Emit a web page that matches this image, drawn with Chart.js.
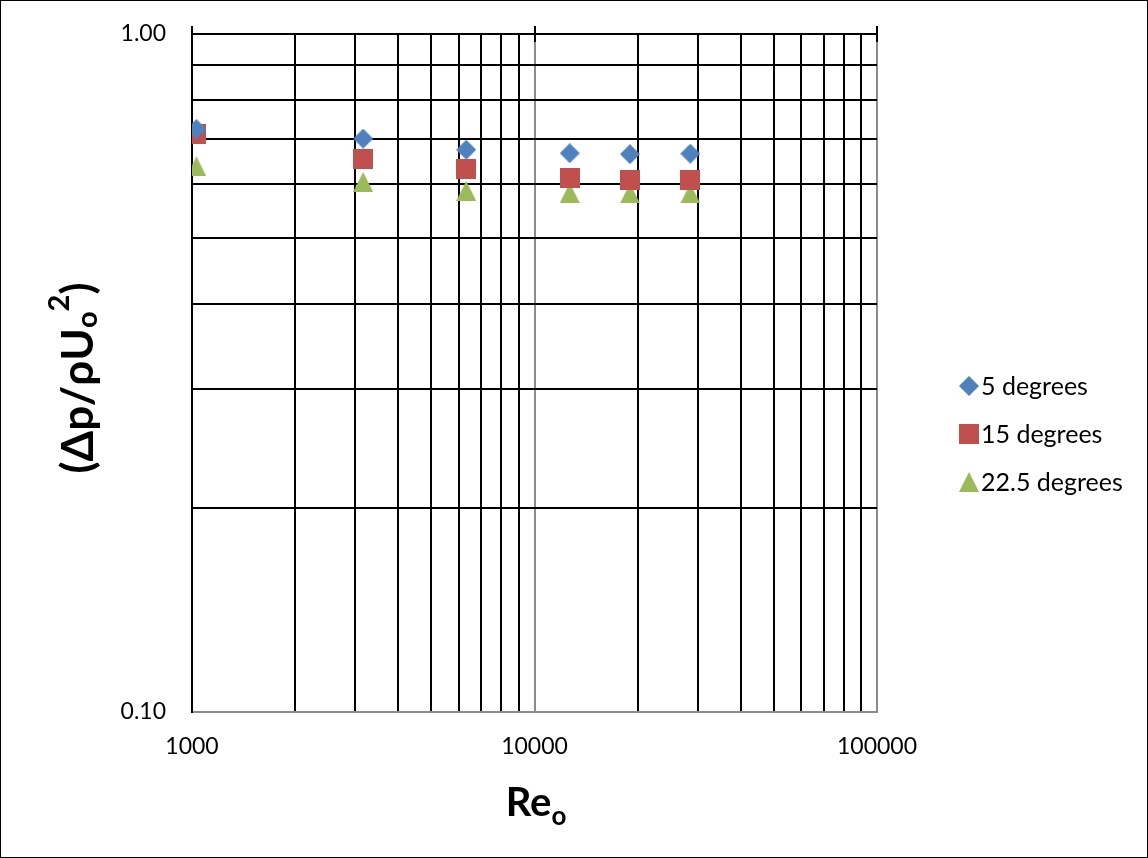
<!DOCTYPE html>
<html>
<head>
<meta charset="utf-8">
<script src="https://cdn.jsdelivr.net/npm/chart.js@4.4.0/dist/chart.umd.min.js"></script>
<style>
  html, body { margin: 0; padding: 0; background: #fff; overflow: hidden; }
  #wrap { width: 1148px; height: 858px; }
</style>
</head>
<body>
<div id="wrap"><canvas id="chart" width="1148" height="858"></canvas></div>
<script>
// Reynolds number for each measurement
const reynolds = [1030, 3160, 6320, 12670, 19000, 28500];

// pressure drop coefficient per angle
const deg5 = [0.724, 0.701, 0.675, 0.667, 0.665, 0.666];
const deg15 = [0.712, 0.655, 0.632, 0.613, 0.609, 0.609];
const deg225 = [0.638, 0.605, 0.587, 0.583, 0.582, 0.582];

const seriesNames = ['5 degrees', '15 degrees', '22.5 degrees'];
const seriesColors = ['#4F81BD', '#C0504D', '#9BBB59'];

// grid lines and labelled ticks
const xGridValues = [1000, 2000, 3000, 4000, 5000, 6000, 7000, 8000, 9000,
    10000, 20000, 30000, 40000, 50000, 60000, 70000, 80000, 90000, 100000];
const yGridValues = [0.1, 0.2, 0.3, 0.4, 0.5, 0.6, 0.7, 0.8, 0.9, 1.0];
const xTickLabels = [1000, 10000, 100000];
const yTickLabels = [0.1, 1.0];

const FONT = 'Lato, Carlito, Calibri, sans-serif';
const GRAY = '#8c8c8c';

// excel style markers
function makeMarker(shape, color) {
    const c = document.createElement('canvas');
    c.width = 20;
    c.height = 20;
    const g = c.getContext('2d');
    g.fillStyle = color;
    g.beginPath();
    if (shape === 'diamond') {
        g.moveTo(0, 10); g.lineTo(10, 0); g.lineTo(20, 10); g.lineTo(10, 20);
    } else if (shape === 'triangle') {
        g.moveTo(0, 20); g.lineTo(10, 0); g.lineTo(20, 20);
    } else {
        g.rect(0, 0, 20, 20);
    }
    g.closePath();
    g.fill();
    return c;
}

const markers = [
    makeMarker('diamond', seriesColors[0]),
    makeMarker('square', seriesColors[1]),
    makeMarker('triangle', seriesColors[2])
];

const near = (a, b) => Math.abs(a - b) < 1e-9 * Math.max(1, Math.abs(b));

// draws text pieces one after another (for sub/superscripts), centred on cx
function drawRich(ctx, parts, cx, baseY) {
    let total = 0;
    parts.forEach(p => {
        ctx.font = `bold ${p.size}px ${FONT}`;
        p.w = ctx.measureText(p.text).width;
        total += p.w;
    });
    let x = cx - total / 2;
    ctx.textBaseline = 'alphabetic';
    ctx.textAlign = 'left';
    parts.forEach(p => {
        ctx.font = `bold ${p.size}px ${FONT}`;
        ctx.fillText(p.text, x, baseY + (p.dy || 0));
        x += p.w;
    });
}

const decorations = {
    id: 'decorations',
    afterDraw(chart) {
        const ctx = chart.ctx;
        const xs = chart.scales.x;
        const area = chart.chartArea;
        ctx.save();

        // cross ticks on the top axis
        ctx.strokeStyle = '#000';
        ctx.lineWidth = 2;
        xTickLabels.forEach(v => {
            const px = Math.round(xs.getPixelForValue(v));
            ctx.beginPath();
            ctx.moveTo(px, area.top - 8);
            ctx.lineTo(px, area.top + 8);
            ctx.stroke();
        });

        ctx.fillStyle = '#000';
        // x title
        drawRich(ctx, [
            { text: 'Re', size: 40 },
            { text: 'o', size: 26, dy: 9 }
        ], 536, 816);

        // y title, rotated
        ctx.save();
        ctx.translate(93, 378);
        ctx.rotate(-Math.PI / 2);
        drawRich(ctx, [
            { text: '(Δp/ρU', size: 44 },
            { text: 'o', size: 29, dy: 4 },
            { text: '2', size: 29, dy: -24 },
            { text: ')', size: 44 }
        ], 0, 0);
        ctx.restore();

        // legend
        ctx.font = `25px ${FONT}`;
        ctx.textBaseline = 'middle';
        ctx.textAlign = 'left';
        chart.data.datasets.forEach((ds, i) => {
            const y = 386 + i * 48;
            ctx.drawImage(markers[i], 959, y - 10);
            ctx.fillText(ds.label, 981, y + 1);
        });

        // outer frame
        ctx.strokeStyle = '#000';
        ctx.lineWidth = 1;
        ctx.strokeRect(0.5, 0.5, chart.width - 1, chart.height - 1);
        ctx.restore();
    }
};

const seriesValues = [deg5, deg15, deg225];

new Chart(document.getElementById('chart'), {
    type: 'scatter',
    data: {
        datasets: seriesValues.map((vals, i) => ({
            label: seriesNames[i],
            data: reynolds.map((re, j) => ({ x: re, y: vals[j] })),
            pointStyle: markers[i],
            backgroundColor: seriesColors[i],
            borderColor: seriesColors[i],
            pointRadius: 10,
            showLine: false
        }))
    },
    options: {
        responsive: false,
        animation: false,
        devicePixelRatio: 1,
        layout: { padding: { top: 34, right: 271, left: 0, bottom: 0 } },
        plugins: {
            legend: { display: false },
            tooltip: { enabled: false }
        },
        scales: {
            x: {
                type: 'logarithmic',
                position: 'bottom',
                min: 1000,
                max: 100000,
                afterBuildTicks: s => { s.ticks = xGridValues.map(v => ({ value: v })); },
                afterFit: s => { s.height = 146; },
                grid: {
                    color: c => (c.tick && (c.tick.value === 10000 || c.tick.value === 100000)) ? GRAY : '#000',
                    lineWidth: 2,
                    drawTicks: false
                },
                border: { color: GRAY, width: 2 },
                ticks: {
                    autoSkip: false,
                    maxRotation: 0,
                    padding: 21,
                    color: '#000',
                    font: { family: FONT, size: 23 },
                    callback: v => xTickLabels.includes(v) ? String(v) : ''
                }
            },
            y: {
                type: 'logarithmic',
                min: 0.1,
                max: 1.0,
                afterBuildTicks: s => { s.ticks = yGridValues.map(v => ({ value: v })); },
                afterFit: s => {
                    s.width = 192;
                    s.paddingTop = 0;
                    s.paddingBottom = 0;
                },
                grid: {
                    color: c => (c.tick && near(c.tick.value, 0.1)) ? GRAY : '#000',
                    lineWidth: 2,
                    drawTicks: false
                },
                border: { color: '#000', width: 2 },
                ticks: {
                    autoSkip: false,
                    padding: 26,
                    color: '#000',
                    font: { family: FONT, size: 23 },
                    callback: v => yTickLabels.some(t => near(t, v)) ? v.toFixed(2) : ''
                }
            }
        }
    },
    plugins: [decorations]
});
</script>
</body>
</html>
